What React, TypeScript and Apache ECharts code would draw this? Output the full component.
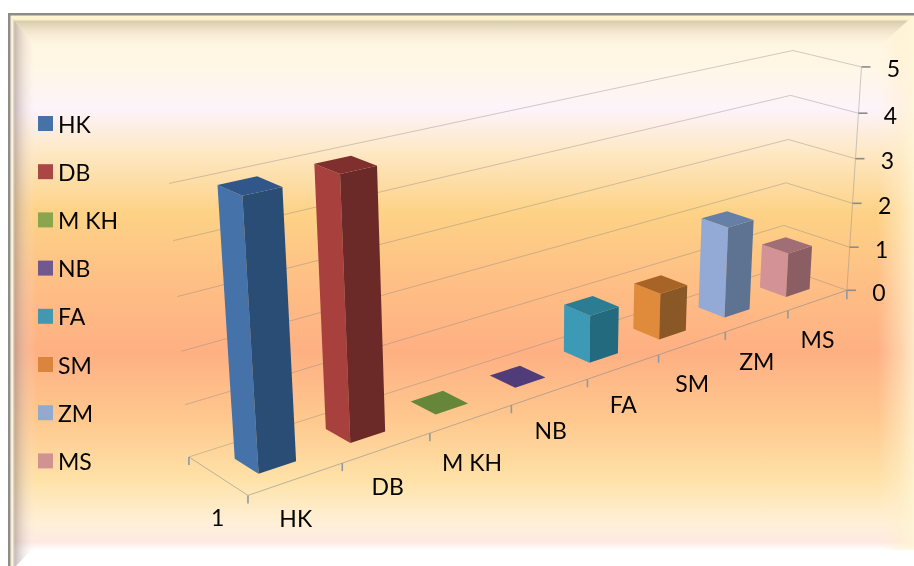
import React, { useEffect, useRef } from "react";
import * as echarts from "echarts";

// Chart data
const seriesNames = ["HK", "DB", "M KH", "NB", "FA", "SM", "ZM", "MS"];
const seriesValues = [5, 5, 0, 0, 1, 1, 2, 1];
const depthCategories = ["1"];
const valueTicks = [0, 1, 2, 3, 4, 5];

// Face colours of each column
const legendColors = ["#4572A7", "#AA4643", "#89A54E", "#71588F", "#4198AF", "#DB843D", "#93A9CF", "#D19392"];
const sideColors = ["#4472a9", "#a8403e", "#89A54E", "#71588F", "#3c9ab6", "#e08a3c", "#93aad6", "#d29296"];
const shadeColors = ["#2a4d76", "#6b2927", "#5e7535", "#4d3c63", "#246a7e", "#8a5826", "#5d7391", "#8a5e62"];
const capColors = ["#30568a", "#7f2f2d", "#66863a", "#503c78", "#2a7d92", "#a86426", "#667fa6", "#a06e74"];

// Hand placement of the series-axis labels: [dx, dy] from the default spot
const slotLabelNudge = [[1, 1], [2, 0], [2, 5], [2, 0], [1, -1], [1, 1], [1, 1], [1, 0]];

const FONT = "Lato";
const FONT_SIZE = 23;
const INK = "#050505";
const GRID_W = 800;
const GRID_H = 500;
const GAP_SHARE = 0.4; // column width as a share of its slot (150% gap)

// Camera calibration for the oblique view: [slot position, depth, value, screen x, screen y]
const calibration: number[][] = [
  [0, 0, 0, 248, 495], [1, 0, 0, 846, 289.5], [0, 1, 0, 189, 457], [1, 1, 0, 782, 268],
  [1, 0, 1, 850, 246.5], [1, 0, 2, 853, 203], [1, 0, 3, 856, 158], [1, 0, 4, 858.5, 113], [1, 0, 5, 861, 67],
  [1, 1, 1, 784, 225], [1, 1, 2, 786, 182], [1, 1, 3, 788, 139.5], [1, 1, 4, 791, 96], [1, 1, 5, 793, 51],
  [0, 1, 1, 185, 404], [0, 1, 2, 181, 351], [0, 1, 3, 177, 296], [0, 1, 4, 173, 241], [0, 1, 5, 169, 184],
  [0.125, 0, 0, 342, 463], [0.25, 0, 0, 430, 433], [0.375, 0, 0, 512, 406], [0.5, 0, 0, 588, 379],
  [0.625, 0, 0, 659, 356], [0.75, 0, 0, 725, 333], [0.875, 0, 0, 787, 311],
];

// Least-squares solve for the 3x4 projection matrix
function solveCamera(rows: number[][]): number[] {
  const n = 11;
  const m = Array.from({ length: n }, () => new Array(n + 1).fill(0));
  const add = (r: number[], b: number) => {
    for (let i = 0; i < n; i++) {
      for (let j = 0; j < n; j++) m[i][j] += r[i] * r[j];
      m[i][n] += r[i] * b;
    }
  };
  for (const [t, d, v, sx, sy] of rows) {
    const x = sx / 1000;
    const y = sy / 1000;
    const w = v / 5;
    add([t, d, w, 1, 0, 0, 0, 0, -x * t, -x * d, -x * w], x);
    add([0, 0, 0, 0, t, d, w, 1, -y * t, -y * d, -y * w], y);
  }
  for (let c = 0; c < n; c++) {
    let p = c;
    for (let r = c + 1; r < n; r++) if (Math.abs(m[r][c]) > Math.abs(m[p][c])) p = r;
    [m[c], m[p]] = [m[p], m[c]];
    for (let r = 0; r < n; r++) {
      if (r === c) continue;
      const f = m[r][c] / m[c][c];
      for (let k = c; k <= n; k++) m[r][k] -= f * m[c][k];
    }
  }
  return m.map((row, i) => row[n] / row[i]);
}

const cam = solveCamera(calibration);

function project(t: number, d: number, v: number): number[] {
  const w = v / 5;
  const q = cam[8] * t + cam[9] * d + cam[10] * w + 1;
  return [
    (1000 * (cam[0] * t + cam[1] * d + cam[2] * w + cam[3])) / q,
    (1000 * (cam[4] * t + cam[5] * d + cam[6] * w + cam[7])) / q,
  ];
}

// Read a data point through the hidden cartesian axes as slot position and value
function readScale(api: any, slot: number, value: number) {
  const c = api.coord([slot, value]);
  const band = api.size([1, 0])[0];
  return { t: c[0] / GRID_W, v: (5 * (GRID_H - c[1])) / GRID_H, half: band / GRID_W / 2 };
}

function columnRender(index: number) {
  return (_: any, api: any) => {
    const { t, v, half } = readScale(api, api.value(0), api.value(1));
    const t0 = t - half * GAP_SHARE;
    const t1 = t + half * GAP_SHARE;
    const d0 = 0.5 - GAP_SHARE / 2;
    const d1 = 0.5 + GAP_SHARE / 2;
    const face = (pts: number[][], fill: string) => ({
      type: "polygon",
      shape: { points: pts.map((p) => project(p[0], p[1], p[2])) },
      style: { fill },
      silent: true,
    });
    const children: any[] = [];
    if (v > 0) {
      children.push(face([[t0, d1, 0], [t0, d0, 0], [t0, d0, v], [t0, d1, v]], sideColors[index]));
      children.push(face([[t0, d0, 0], [t1, d0, 0], [t1, d0, v], [t0, d0, v]], shadeColors[index]));
    }
    children.push(face([[t0, d0, v], [t1, d0, v], [t1, d1, v], [t0, d1, v]], capColors[index]));
    return { type: "group", children };
  };
}

const line = (pts: number[][], stroke: string, lineWidth = 1) => ({
  type: "polyline",
  shape: { points: pts },
  style: { stroke, lineWidth, fill: "none" },
  silent: true,
});

const label = (text: string, x: number, y: number) => ({
  type: "text",
  style: { text, x, y, fill: INK, font: `${FONT_SIZE}px ${FONT}`, align: "center", verticalAlign: "middle" },
  silent: true,
});

// Gridlines around the two back walls, with the value ticks and their labels
function wallRender(_: any, api: any) {
  const { v } = readScale(api, 0, api.value(1));
  const right = project(1, 0, v);
  const children: any[] = [
    line([project(0, 1, v), project(1, 1, v), right], "rgba(130,130,130,0.38)"),
    line([[right[0], right[1]], [right[0] + 9, right[1]]], "#8b8b8b", 1.6),
    label(String(api.value(1)), right[0] + 32, right[1] + 1.5),
  ];
  if (v === 0) {
    children.push(line([project(1, 0, 0), project(1, 0, 5)], "rgba(130,130,130,0.4)"));
  }
  return { type: "group", children };
}

// Floor edges, category ticks and series-axis labels
function slotRender(_: any, api: any) {
  const index = api.value(0);
  const { t, half } = readScale(api, index, 0);
  const a = project(t - half, 0, 0);
  const b = project(t + half, 0, 0);
  const mid = project(t, 0.02, 0);
  return {
    type: "group",
    children: [
      line([a, b], "rgba(120,130,140,0.5)"),
      line([[a[0], a[1]], [a[0], a[1] + 8]], "#8c99a6", 1.6),
      label(seriesNames[index], mid[0] + slotLabelNudge[index][0], mid[1] + 39 + slotLabelNudge[index][1]),
    ],
  };
}

function depthRender() {
  const a = project(0, 0, 0);
  const b = project(0, 1, 0);
  const end = project(1, 0, 0);
  const mid = project(0, 0.5, 0);
  return {
    type: "group",
    children: [
      line([a, b], "rgba(120,130,140,0.5)"),
      line([[b[0], b[1]], [b[0], b[1] + 8]], "#8c99a6", 1.6),
      line([[end[0], end[1]], [end[0], end[1] + 9]], "#8c99a6", 1.6),
      label(depthCategories[0], mid[0], mid[1] + 41),
    ],
  };
}

// Vertical wash behind the plot: [offset, colour]
const washStops: [number, string][] = [
  [0, "#fff4dc"], [0.1, "#fff7e6"], [0.175, "#fdf3fb"], [0.25, "#fee9c8"], [0.37, "#fdd286"],
  [0.5, "#febf85"], [0.63, "#feb083"], [0.76, "#fec98f"], [0.87, "#fee2a8"], [0.95, "#fff0d8"],
  [0.985, "#fee9e2"], [1, "#ffffff"],
];

const vGrad = (stops: [number, string][], x0 = 0, y0 = 0, x1 = 0, y1 = 1) =>
  new echarts.graphic.LinearGradient(x0, y0, x1, y1, stops.map(([offset, color]) => ({ offset, color })));

const frameElements: any[] = [
  { type: "rect", shape: { x: 10, y: 15, width: 904, height: 535 }, style: { fill: vGrad(washStops) } },
  // bevel: top
  {
    type: "polygon",
    shape: { points: [[10, 15], [914, 15], [878, 48], [36, 48]] },
    style: {
      fill: vGrad([[0, "#fff6cf"], [0.13, "#fdf3cc"], [0.2, "#d9ccae"], [0.55, "rgba(235,222,195,0.55)"], [1, "rgba(255,246,225,0)"]]),
    },
  },
  // bevel: right
  {
    type: "polygon",
    shape: { points: [[914, 15], [878, 48], [878, 545], [914, 566]] },
    style: {
      fill: vGrad([[0, "rgba(255,240,215,0)"], [0.6, "rgba(255,240,205,0.5)"], [1, "rgba(255,246,215,0.8)"]], 0, 0, 1, 0),
    },
  },
  // bevel: bottom
  { type: "polygon", shape: { points: [[10, 550], [914, 550], [914, 566], [10, 566]] }, style: { fill: "#ffffff" } },
  // bevel: left, running over the white strip along its diagonal
  {
    type: "polygon",
    shape: { points: [[10, 15], [36, 48], [36, 545], [16, 566], [10, 566]] },
    style: {
      fill: vGrad(
        [[0, "#f0e4cc"], [0.1, "#fbf3dc"], [0.2, "rgba(165,150,145,0.6)"], [0.5, "rgba(205,185,180,0.35)"], [1, "rgba(255,240,235,0)"]],
        0, 0, 1, 0,
      ),
    },
  },
  // outer edge
  { type: "rect", shape: { x: 8, y: 13, width: 906, height: 2.4 }, style: { fill: "#8c8c8c" } },
  { type: "rect", shape: { x: 8, y: 13, width: 2.4, height: 553 }, style: { fill: "#8c8c8c" } },
];

const categoryIndices = seriesNames.map((_, i) => i);

export default function App() {
  const ref = useRef<HTMLDivElement>(null);
  useEffect(() => {
    const chart = echarts.init(ref.current!, undefined, { renderer: "svg" });
    chart.setOption({
      animation: false,
      grid: { left: 0, top: 0, width: GRID_W, height: GRID_H },
      xAxis: { type: "category", data: seriesNames, show: false },
      yAxis: { type: "value", min: 0, max: 5, interval: 1, show: false },
      graphic: { elements: frameElements.map((e) => ({ ...e, silent: true, z: 0 })) },
      legend: {
        data: seriesNames,
        orient: "vertical",
        left: 33,
        top: 107,
        icon: "rect",
        itemWidth: 15,
        itemHeight: 15,
        itemGap: 25.2,
        selectedMode: false,
        textStyle: { fontFamily: FONT, fontSize: FONT_SIZE, color: INK },
      },
      series: [
        { type: "custom", name: "walls", z: 1, silent: true, renderItem: wallRender, data: valueTicks.map((v) => [0, v]) },
        { type: "custom", name: "slots", z: 1, silent: true, renderItem: slotRender, data: categoryIndices.map((i) => [i, 0]) },
        { type: "custom", name: "depth", z: 1, silent: true, renderItem: depthRender, data: [[0, 0]] },
        ...seriesNames.map((name, i) => ({
          type: "custom",
          name,
          z: 2,
          silent: true,
          itemStyle: { color: legendColors[i] },
          renderItem: columnRender(i),
          data: [[i, seriesValues[i]]],
        })),
      ],
    });
    return () => chart.dispose();
  }, []);
  return <div ref={ref} style={{ position: "fixed", left: 0, top: 0, width: 914, height: 566 }} />;
}
